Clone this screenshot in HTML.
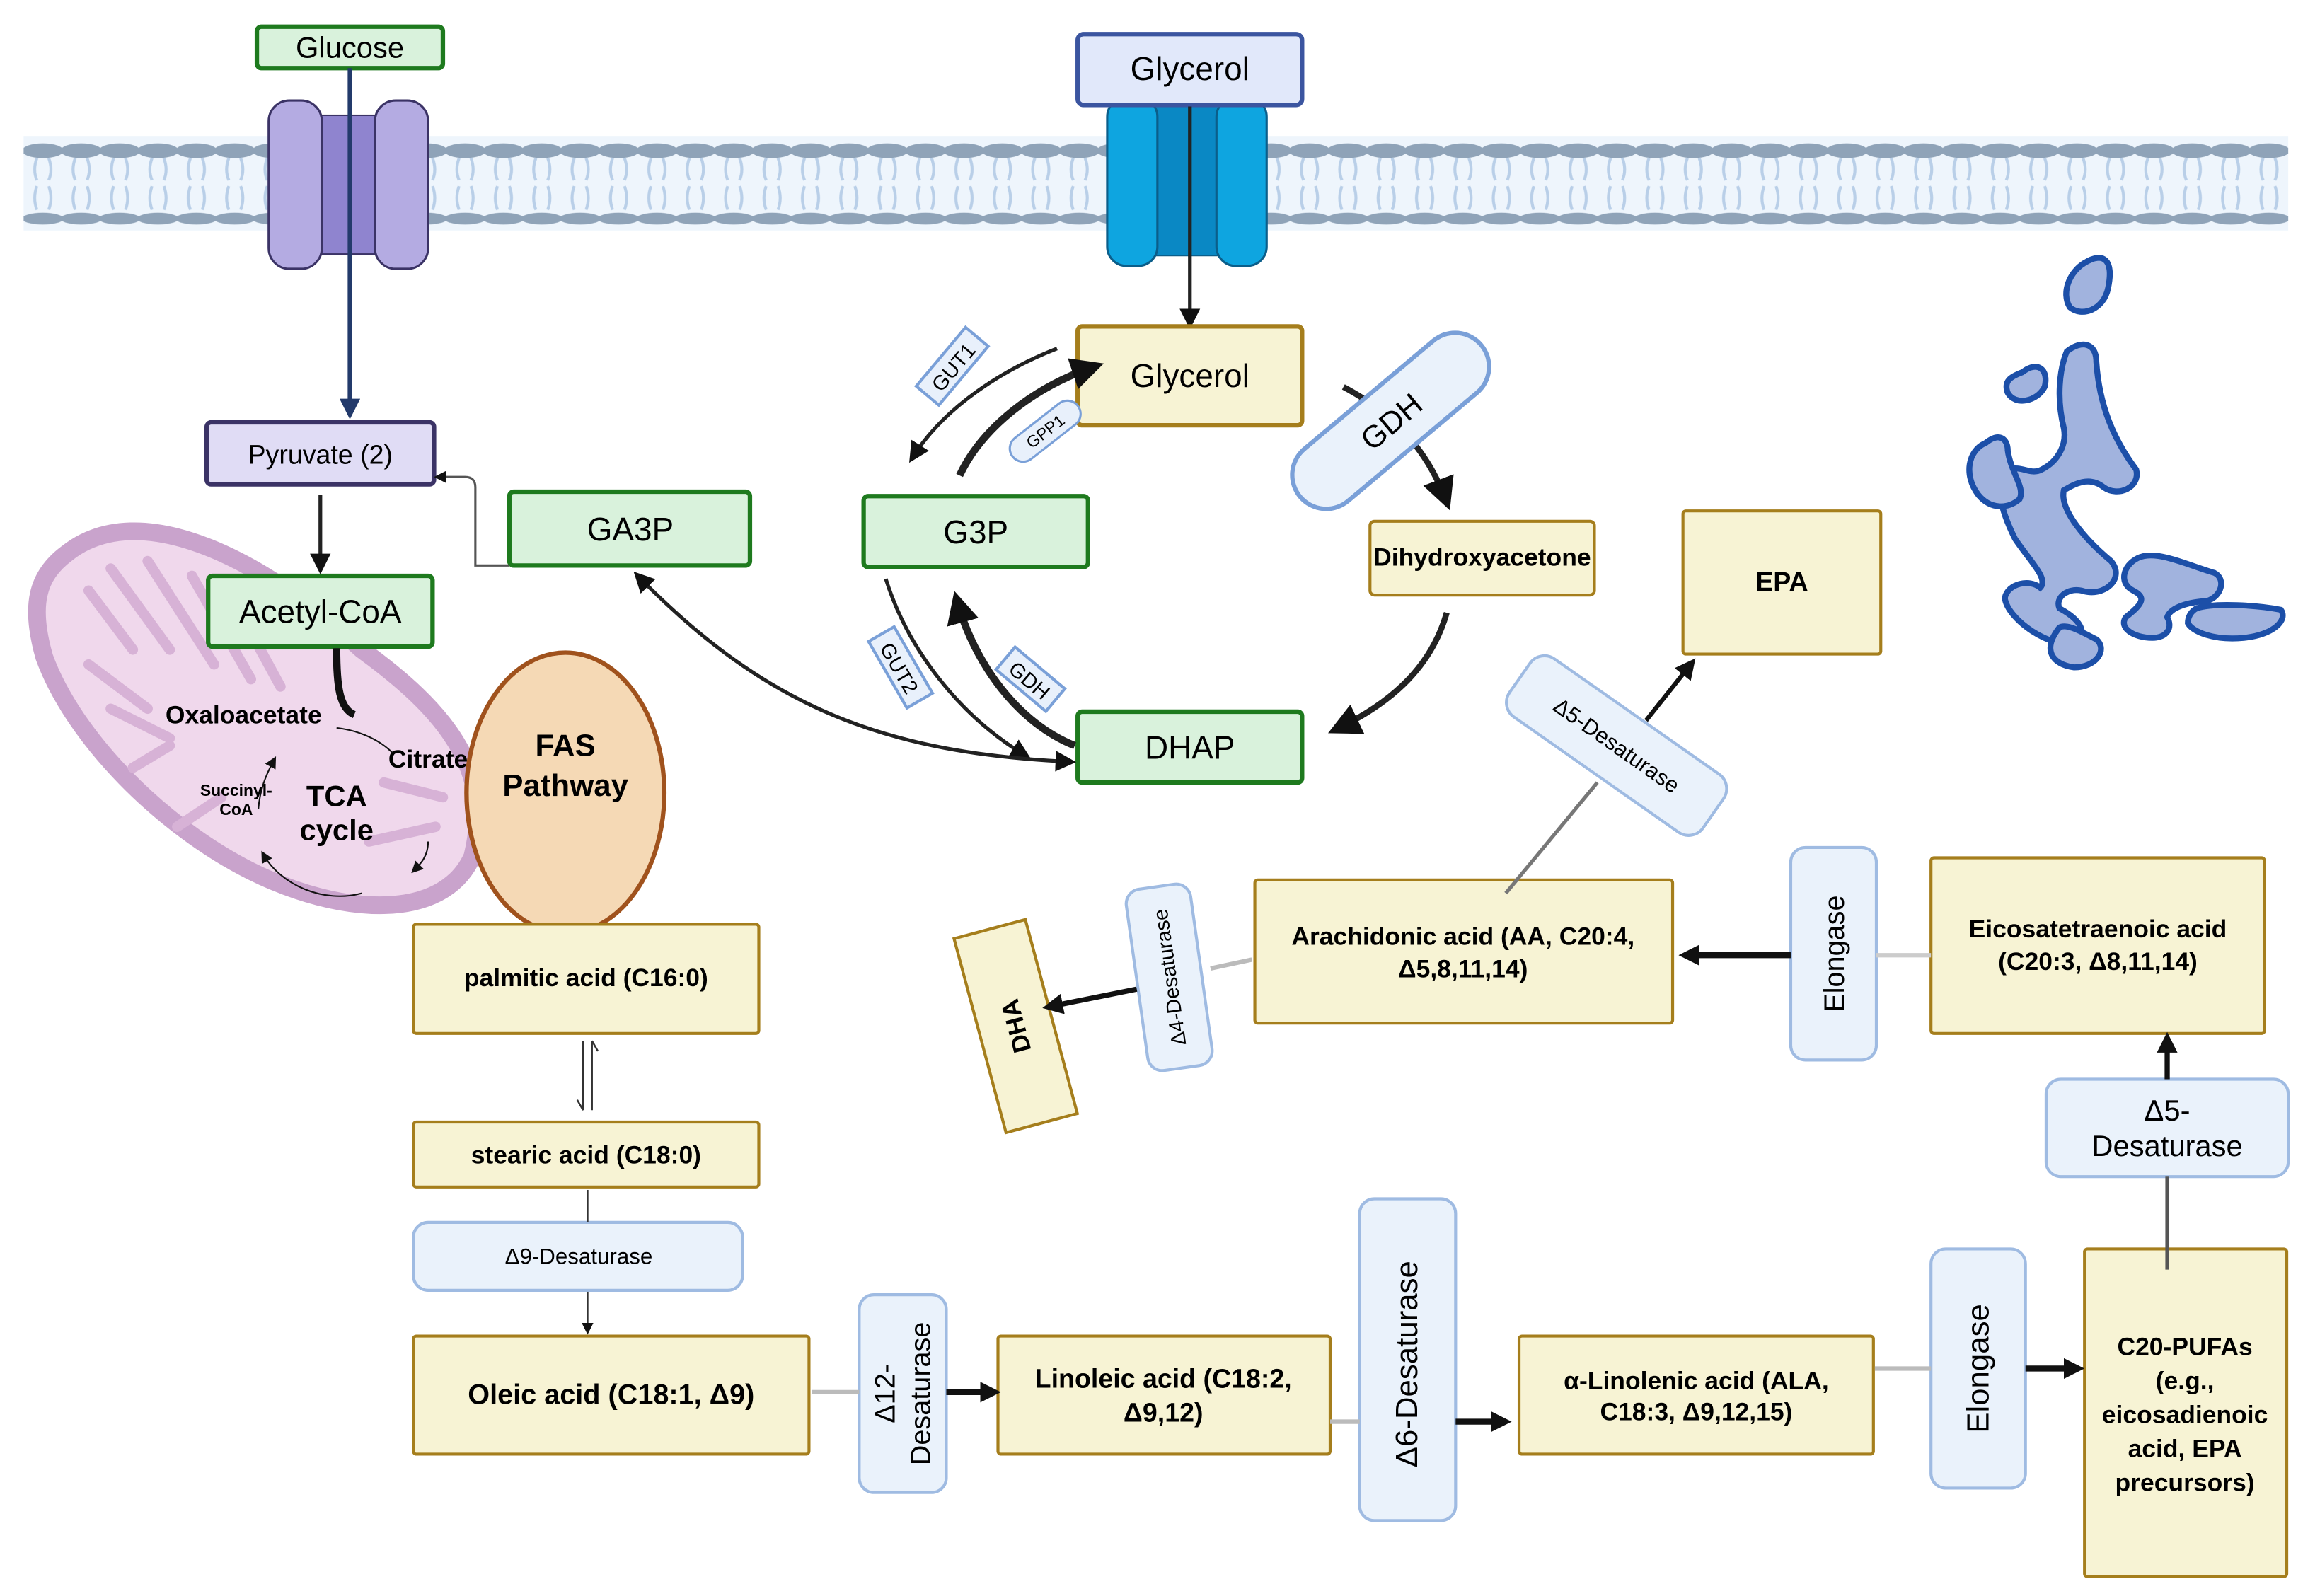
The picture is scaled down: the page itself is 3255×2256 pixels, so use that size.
<!DOCTYPE html>
<html><head><meta charset="utf-8"><style>
html,body{margin:0;padding:0;background:#fff}
svg{display:block}
text{font-family:"Liberation Sans",sans-serif}
</style></head><body>
<svg width="3255" height="2256" viewBox="0 0 1560 1081" xmlns="http://www.w3.org/2000/svg">
<defs>
<marker id="ah" markerWidth="8" markerHeight="8" refX="6" refY="4" orient="auto" markerUnits="userSpaceOnUse"><path d="M0,0 L8,4 L0,8 Z" fill="#111"/></marker>
<marker id="ahb" markerWidth="22" markerHeight="22" refX="16" refY="11" orient="auto" markerUnits="userSpaceOnUse"><path d="M0,0 L22,11 L0,22 Z" fill="#111"/></marker>
<marker id="ahm" markerWidth="14" markerHeight="14" refX="10" refY="7" orient="auto" markerUnits="userSpaceOnUse"><path d="M0,0 L14,7 L0,14 Z" fill="#111"/></marker>
<marker id="ahs" markerWidth="14" markerHeight="14" refX="4" refY="7" orient="auto" markerUnits="userSpaceOnUse"><path d="M14,0 L0,7 L14,14 Z" fill="#111"/></marker>
<marker id="ahn" markerWidth="14" markerHeight="14" refX="10" refY="7" orient="auto" markerUnits="userSpaceOnUse"><path d="M0,0 L14,7 L0,14 Z" fill="#233a6b"/></marker>
<pattern id="lip" width="26" height="64" patternUnits="userSpaceOnUse" x="16" y="92">
<ellipse cx="13" cy="10" rx="14" ry="5" fill="#8fa3b8"/>
<ellipse cx="13" cy="56" rx="14" ry="4" fill="#8fa3b8"/>
<path d="M9,15 q-3,8 0,15 M17,15 q3,8 0,15 M9,34 q-3,8 0,16 M17,34 q3,8 0,16" stroke="#b9cfe8" stroke-width="2" fill="none"/>
</pattern>
</defs>

<rect x="16" y="92" width="1534" height="64" fill="#eef5fc"/>
<rect x="16" y="92" width="1534" height="64" fill="url(#lip)"/>

<rect x="200" y="78" width="72" height="94" fill="#8f84cf" stroke="#3b3366"/>
<rect x="182" y="68" width="36" height="114" rx="14" fill="#b4abe2" stroke="#3b3366" stroke-width="1.5"/>
<rect x="254" y="68" width="36" height="114" rx="14" fill="#b4abe2" stroke="#3b3366" stroke-width="1.5"/>
<rect x="174" y="18" width="126" height="28" rx="3" fill="#d9f2dc" stroke="#1e7a1e" stroke-width="3"/>
<text x="237" y="39" font-size="20" text-anchor="middle">Glucose</text>
<line x1="237" y1="46" x2="237" y2="280" stroke="#233a6b" stroke-width="3" marker-end="url(#ahn)"/>

<rect x="770" y="68" width="70" height="105" fill="#0a88c4" stroke="#0b5e8a"/>
<rect x="750" y="66" width="34" height="114" rx="13" fill="#0ea5e0" stroke="#0b5e8a" stroke-width="1.5"/>
<rect x="824" y="66" width="34" height="114" rx="13" fill="#0ea5e0" stroke="#0b5e8a" stroke-width="1.5"/>
<rect x="730" y="23" width="152" height="48" rx="4" fill="#e1e8fa" stroke="#3b55a0" stroke-width="3"/>
<text x="806" y="54" font-size="22" text-anchor="middle">Glycerol</text>
<line x1="806" y1="72" x2="806" y2="219" stroke="#222" stroke-width="2.5" marker-end="url(#ahm)"/>

<rect x="140" y="286" width="154" height="42" rx="3" fill="#e0dcf5" stroke="#3b3366" stroke-width="3"/>
<text x="217" y="314" font-size="18" text-anchor="middle">Pyruvate (2)</text>
<line x1="217" y1="335" x2="217" y2="385" stroke="#222" stroke-width="2.5" marker-end="url(#ahm)"/>

<path d="M45,375 C95,335 180,380 245,440 C300,480 335,520 320,580 C300,625 230,620 170,590 C110,560 50,500 30,445 C20,410 25,390 45,375 Z" fill="#f0d8ec" stroke="#c9a3cc" stroke-width="12"/>
<path d="M60,400 l30,40 M75,385 l40,55 M100,380 l45,70 M130,390 l40,70 M160,410 l30,55 M60,450 l40,30 M75,480 l40,20 M260,530 l40,10 M250,570 l45,-10 M120,560 l30,-20 M90,520 l25,-15" stroke="#d7b2d6" stroke-width="7" stroke-linecap="round"/>
<rect x="141" y="390" width="152" height="48" rx="3" fill="#d9f2dc" stroke="#1e7a1e" stroke-width="3"/>
<text x="217" y="422" font-size="22" text-anchor="middle">Acetyl-CoA</text>
<path d="M228,439 C228,465 230,480 240,484" stroke="#111" stroke-width="5" fill="none"/>
<text x="165" y="490" font-size="17" font-weight="bold" text-anchor="middle">Oxaloacetate</text>
<text x="290" y="520" font-size="17" font-weight="bold" text-anchor="middle">Citrate</text>
<text x="228" y="546" font-size="20" font-weight="bold" text-anchor="middle">TCA</text>
<text x="228" y="569" font-size="20" font-weight="bold" text-anchor="middle">cycle</text>
<text x="160" y="539" font-size="11" font-weight="bold" text-anchor="middle">Succinyl-</text>
<text x="160" y="552" font-size="11" font-weight="bold" text-anchor="middle">CoA</text>
<path d="M228,493 C245,495 258,502 266,510" stroke="#111" fill="none" stroke-width="1"/>
<path d="M290,570 C290,580 285,585 280,590" stroke="#111" fill="none" stroke-width="1" marker-end="url(#ah)"/>
<path d="M245,605 C220,612 190,600 178,578" stroke="#111" fill="none" stroke-width="1" marker-end="url(#ah)"/>
<path d="M175,548 C176,535 180,525 186,514" stroke="#111" fill="none" stroke-width="1" marker-end="url(#ah)"/>

<ellipse cx="383" cy="537" rx="67" ry="95" fill="#f5d9b5" stroke="#a0521d" stroke-width="3"/>
<text x="383" y="512" font-size="21" font-weight="bold" text-anchor="middle">FAS</text>
<text x="383" y="539" font-size="21" font-weight="bold" text-anchor="middle">Pathway</text>

<rect x="345" y="333" width="163" height="50" rx="3" fill="#d9f2dc" stroke="#1e7a1e" stroke-width="3"/>
<text x="427" y="366" font-size="22" text-anchor="middle">GA3P</text>
<path d="M345,383 L322,383 L322,330 Q322,323 315,323 L296,323" stroke="#555" stroke-width="1.5" fill="none" marker-end="url(#ah)"/>

<rect x="730" y="221" width="152" height="67" rx="3" fill="#f7f3d4" stroke="#a57e1c" stroke-width="3"/>
<text x="806" y="262" font-size="22" text-anchor="middle">Glycerol</text>
<rect x="585" y="336" width="152" height="48" rx="3" fill="#d9f2dc" stroke="#1e7a1e" stroke-width="3"/>
<text x="661" y="368" font-size="22" text-anchor="middle">G3P</text>
<rect x="730" y="482" width="152" height="48" rx="3" fill="#d9f2dc" stroke="#1e7a1e" stroke-width="3"/>
<text x="806" y="514" font-size="22" text-anchor="middle">DHAP</text>
<rect x="928" y="353" width="152" height="50" rx="3" fill="#f7f3d4" stroke="#a57e1c" stroke-width="2"/>
<text x="1004" y="383" font-size="17" font-weight="bold" text-anchor="middle">Dihydroxyacetone</text>
<rect x="1140" y="346" width="134" height="97" rx="2" fill="#f7f3d4" stroke="#a57e1c" stroke-width="2"/>
<text x="1207" y="400" font-size="18" font-weight="bold" text-anchor="middle">EPA</text>

<path d="M650,322 C665,290 700,262 742,248" stroke="#222" stroke-width="5" fill="none" marker-end="url(#ahb)"/>
<path d="M716,236 C680,250 640,275 618,310" stroke="#222" stroke-width="2.5" fill="none" marker-end="url(#ahm)"/>
<path d="M728,505 C690,490 660,450 648,406" stroke="#222" stroke-width="5" fill="none" marker-end="url(#ahb)"/>
<path d="M600,392 C615,440 650,485 695,512" stroke="#222" stroke-width="2.5" fill="none" marker-end="url(#ahm)"/>
<path d="M432,390 C520,480 600,510 725,516" stroke="#222" stroke-width="2.5" fill="none" marker-start="url(#ahs)" marker-end="url(#ahm)"/>
<path d="M910,262 C940,278 965,300 980,340" stroke="#222" stroke-width="4" fill="none" marker-end="url(#ahb)"/>
<path d="M980,415 C970,450 945,475 905,494" stroke="#222" stroke-width="4" fill="none" marker-end="url(#ahb)"/>

<g transform="translate(645,248) rotate(-50)"><rect x="-26" y="-10" width="52" height="20" fill="#e8f0fb" stroke="#7aa0d8" stroke-width="2"/><text y="6" font-size="14" text-anchor="middle">GUT1</text></g>
<g transform="translate(708,292) rotate(-38)"><rect x="-28" y="-9" width="56" height="18" rx="9" fill="#e8f0fb" stroke="#7aa0d8" stroke-width="1.5"/><text y="4" font-size="11" text-anchor="middle">GPP1</text></g>
<g transform="translate(610,452) rotate(60)"><rect x="-26" y="-10" width="52" height="20" fill="#e8f0fb" stroke="#7aa0d8" stroke-width="2"/><text y="6" font-size="14" text-anchor="middle">GUT2</text></g>
<g transform="translate(698,460) rotate(40)"><rect x="-22" y="-10" width="44" height="20" fill="#e8f0fb" stroke="#7aa0d8" stroke-width="2"/><text y="6" font-size="14" text-anchor="middle">GDH</text></g>
<g transform="translate(942,285) rotate(-40)"><rect x="-80" y="-23" width="160" height="46" rx="23" fill="#eaf2fb" stroke="#7aa0d8" stroke-width="3"/><text y="8" font-size="21" text-anchor="middle">GDH</text></g>

<g fill="#a1b3de" stroke="#1c4fa8" stroke-width="4">
<path d="M1412,178 C1425,170 1432,176 1428,195 C1425,210 1410,215 1402,208 C1396,198 1402,184 1412,178 Z"/>
<path d="M1370,252 C1380,244 1388,250 1385,262 C1380,272 1365,275 1360,266 C1357,258 1362,255 1370,252 Z"/>
<path d="M1400,238 C1410,230 1420,232 1420,245 C1422,275 1432,298 1447,318 C1450,330 1435,337 1425,330 C1415,322 1405,328 1398,332 C1395,345 1412,365 1430,380 C1440,392 1425,405 1410,400 C1400,398 1392,405 1395,412 C1410,420 1415,430 1405,435 C1390,440 1360,420 1358,405 C1360,395 1375,392 1382,398 C1388,392 1375,380 1365,365 C1355,345 1350,325 1360,318 C1370,315 1375,322 1383,318 C1395,312 1400,300 1398,290 C1393,270 1395,250 1400,238 Z"/>
<path d="M1345,300 C1355,292 1360,298 1360,305 C1362,320 1372,330 1368,338 C1360,345 1348,345 1340,335 C1330,322 1333,305 1345,300 Z"/>
<path d="M1448,378 C1460,372 1480,382 1500,388 C1508,392 1505,404 1495,407 C1480,408 1470,412 1468,418 C1472,425 1468,432 1458,432 C1445,432 1435,425 1440,418 C1450,410 1455,405 1445,400 C1435,395 1438,383 1448,378 Z"/>
<path d="M1488,412 C1500,408 1530,410 1545,413 C1550,420 1540,430 1520,432 C1500,434 1485,428 1482,422 C1482,418 1484,414 1488,412 Z"/>
<path d="M1395,425 C1400,422 1410,428 1420,433 C1428,440 1420,452 1405,452 C1390,450 1383,440 1395,425 Z"/>
</g>

<g fill="#f7f3d4" stroke="#a57e1c" stroke-width="2">
<rect x="280" y="626" width="234" height="74" rx="2"/>
<rect x="280" y="760" width="234" height="44" rx="2"/>
<rect x="280" y="905" width="268" height="80" rx="2"/>
<rect x="676" y="905" width="225" height="80" rx="2"/>
<rect x="1029" y="905" width="240" height="80" rx="2"/>
<rect x="1412" y="846" width="137" height="222" rx="2"/>
<rect x="1308" y="581" width="226" height="119" rx="2"/>
<rect x="850" y="596" width="283" height="97" rx="2"/>
</g>
<g fill="#eaf2fb" stroke="#9fbbe2" stroke-width="2">
<rect x="280" y="828" width="223" height="46" rx="10"/>
<rect x="582" y="877" width="59" height="134" rx="10"/>
<rect x="921" y="812" width="65" height="218" rx="10"/>
<rect x="1308" y="846" width="64" height="162" rx="10"/>
<rect x="1386" y="731" width="164" height="66" rx="10"/>
<rect x="1213" y="574" width="58" height="144" rx="10"/>
</g>
<g font-weight="bold" font-size="17" text-anchor="middle">
<text x="397" y="668">palmitic acid (C16:0)</text>
<text x="397" y="788">stearic acid (C18:0)</text>
<text x="414" y="951" font-size="19">Oleic acid (C18:1, Δ9)</text>
<text x="788" y="940" font-size="18">Linoleic acid (C18:2,</text>
<text x="788" y="963" font-size="18">Δ9,12)</text>
<text x="1149" y="941">α-Linolenic acid (ALA,</text>
<text x="1149" y="962">C18:3, Δ9,12,15)</text>
<text x="1480" y="918">C20-PUFAs</text>
<text x="1480" y="941">(e.g.,</text>
<text x="1480" y="964">eicosadienoic</text>
<text x="1480" y="987">acid, EPA</text>
<text x="1480" y="1010">precursors)</text>
<text x="1421" y="635">Eicosatetraenoic acid</text>
<text x="1421" y="657">(C20:3, Δ8,11,14)</text>
<text x="991" y="640">Arachidonic acid (AA, C20:4,</text>
<text x="991" y="662">Δ5,8,11,14)</text>
</g>
<g font-size="15" text-anchor="middle">
<text x="392" y="856">Δ9-Desaturase</text>
<text x="1468" y="759" font-size="20">Δ5-</text>
<text x="1468" y="783" font-size="20">Desaturase</text>
<text transform="translate(606,944) rotate(-90)" font-size="19">Δ12-</text>
<text transform="translate(630,944) rotate(-90)" font-size="19">Desaturase</text>
<text transform="translate(960,924) rotate(-90)" font-size="21">Δ6-Desaturase</text>
<text transform="translate(1347,927) rotate(-90)" font-size="21">Elongase</text>
<text transform="translate(1249,646) rotate(-90)" font-size="19">Elongase</text>
</g>
<g transform="translate(792,662) rotate(-8)"><rect x="-22" y="-62" width="44" height="124" rx="10" fill="#eaf2fb" stroke="#9fbbe2" stroke-width="2"/><text transform="rotate(-90)" y="5" font-size="14" text-anchor="middle">Δ4-Desaturase</text></g>
<g transform="translate(688,695) rotate(-15)"><rect x="-25" y="-68" width="50" height="136" fill="#f7f3d4" stroke="#a57e1c" stroke-width="2"/><text transform="rotate(-90)" y="6" font-size="17" font-weight="bold" text-anchor="middle">DHA</text></g>
<g transform="translate(1095,505) rotate(35)"><rect x="-80" y="-24" width="160" height="48" rx="12" fill="#eaf2fb" stroke="#9fbbe2" stroke-width="2"/><text y="5" font-size="15" text-anchor="middle">Δ5-Desaturase</text></g>

<path d="M395,705 L395,752 M401,705 L401,752" stroke="#333" stroke-width="1.2"/>
<path d="M395,752 l-4,-7 M401,705 l4,7" stroke="#333" stroke-width="1.2"/>
<line x1="398" y1="806" x2="398" y2="828" stroke="#333" stroke-width="1.2"/>
<line x1="398" y1="875" x2="398" y2="902" stroke="#333" stroke-width="1.2" marker-end="url(#ah)"/>
<line x1="550" y1="943" x2="582" y2="943" stroke="#bbb" stroke-width="3"/>
<line x1="641" y1="943" x2="674" y2="943" stroke="#111" stroke-width="4" marker-end="url(#ahm)"/>
<line x1="901" y1="963" x2="921" y2="963" stroke="#bbb" stroke-width="3"/>
<line x1="986" y1="963" x2="1020" y2="963" stroke="#111" stroke-width="4" marker-end="url(#ahm)"/>
<line x1="1270" y1="927" x2="1308" y2="927" stroke="#bbb" stroke-width="3"/>
<line x1="1372" y1="927" x2="1408" y2="927" stroke="#111" stroke-width="4" marker-end="url(#ahm)"/>
<line x1="1468" y1="860" x2="1468" y2="797" stroke="#555" stroke-width="2.5"/>
<line x1="1468" y1="731" x2="1468" y2="703" stroke="#111" stroke-width="3.5" marker-end="url(#ahm)"/>
<line x1="1271" y1="647" x2="1308" y2="647" stroke="#ccc" stroke-width="3"/>
<line x1="1213" y1="647" x2="1141" y2="647" stroke="#111" stroke-width="4" marker-end="url(#ahm)"/>
<line x1="848" y1="650" x2="820" y2="656" stroke="#bbb" stroke-width="3"/>
<line x1="770" y1="670" x2="710" y2="682" stroke="#111" stroke-width="3.5" marker-end="url(#ahm)"/>
<line x1="1020" y1="605" x2="1082" y2="530" stroke="#777" stroke-width="2.5"/>
<line x1="1115" y1="488" x2="1146" y2="449" stroke="#111" stroke-width="3" marker-end="url(#ahm)"/>
</svg>
</body></html>
